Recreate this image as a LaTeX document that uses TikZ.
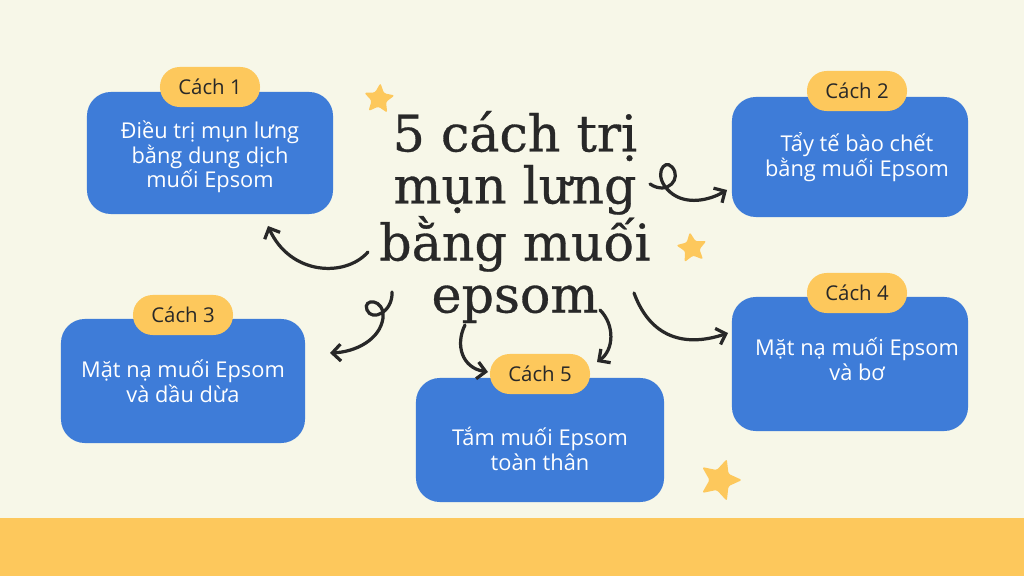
\documentclass[tikz,border=0pt]{standalone}
\usepackage{fontspec}
\setmainfont{Open Sans}
\newfontfamily\titlefont[FakeBold=0.6]{DejaVu Serif}
\usetikzlibrary{shapes.geometric}
\usetikzlibrary{arrows.meta}
\usetikzlibrary{positioning}

\definecolor{bgcream}{RGB}{247,247,232}
\definecolor{cardblue}{RGB}{62,124,216}
\definecolor{tagyellow}{RGB}{253,200,92}
\definecolor{inkdark}{RGB}{40,40,40}

\begin{document}
\begin{tikzpicture}[x=0.025cm,y=-0.025cm,
    card/.style={fill=cardblue,rounded corners=17pt,inner sep=0pt},
    tag/.style={fill=tagyellow,rounded corners=14pt,minimum width=2.5cm,minimum height=1cm,
      inner sep=0pt,text=inkdark,font=\fontsize{14.5}{17}\selectfont},
    cardtext/.style={text=white,align=center,font=\fontsize{15.5}{17.5}\selectfont},
    curl/.style={draw=inkdark,line width=2.3pt,line cap=round,
      -{Straight Barb[length=6pt,width=12pt,line width=2.3pt]}},
    spark/.style={star,star points=5,star point ratio=2.1,fill=tagyellow,
      rounded corners=1.5pt,inner sep=0pt}]
    % background and bottom band
    \fill[bgcream] (0,0) rectangle (1024,576);
    \fill[tagyellow] (0,518) rectangle (1024,576);
    \useasboundingbox (0,0) rectangle (1024,576);

    % cards
    \node[card,minimum width=6.15cm,minimum height=3.05cm] (c1) at (210,153) {};
    \node[card,minimum width=5.9cm,minimum height=3.0cm] (c2) at (850,157) {};
    \node[card,minimum width=6.1cm,minimum height=3.1cm] (c3) at (183,381) {};
    \node[card,minimum width=5.9cm,minimum height=3.35cm] (c4) at (850,364) {};
    \node[card,minimum width=6.2cm,minimum height=3.1cm] (c5) at (540,440) {};

    \node[cardtext] (t1) at (210,157) {Điều trị mụn lưng\\bằng dung dịch\\muối Epsom};
    \node[cardtext] (t2) at (857,157) {Tẩy tế bào chết\\bằng muối Epsom};
    \node[cardtext] (t3) at (183,381) {Mặt nạ muối Epsom\\và dầu dừa};
    \node[cardtext] (t4) at (857,359) {Mặt nạ muối Epsom\\và bơ};
    \node[cardtext] (t5) at (540,449) {Tắm muối Epsom\\toàn thân};

    % tags
    \node[tag] (p1) at ([shift={(0,-66)}]c1.center) {Cách 1};
    \node[tag] (p2) at ([shift={(7,-66)}]c2.center) {Cách 2};
    \node[tag] (p3) at ([shift={(0,-66)}]c3.center) {Cách 3};
    \node[tag] (p4) at ([shift={(7,-71)}]c4.center) {Cách 4};
    \node[tag] (p5) at ([shift={(0,-66)}]c5.center) {Cách 5};

    % title
    \node[align=center,text=inkdark,font=\titlefont\fontsize{36}{37}\selectfont] (title) at (515,217)
      {5 cách trị\\mụn lưng\\bằng muối\\epsom};

    % stars
    \node[spark,minimum size=0.8cm,rotate=-5] (s1) at (379,99) {};
    \node[spark,minimum size=0.8cm,rotate=8] (s2) at (692,248) {};
    \node[spark,minimum size=1.1cm,rotate=-18] (s3) at (720,480) {};

    % curly arrows
    \coordinate (a1) at (368,252);
    \coordinate (b1) at (268,226);
    \coordinate (a2) at (650,184);
    \coordinate (b2) at (727,190);
    \coordinate (a3) at (392,292);
    \coordinate (b3) at (330,353);
    \coordinate (a4) at (465,325);
    \coordinate (b4) at (488,372);
    \coordinate (a5) at (600,310);
    \coordinate (b5) at (597,362);
    \coordinate (a6) at (634,293);
    \coordinate (b6) at (728,333);
    \draw[curl] (a1) .. controls (345,278) and (290,275) .. (b1);
    \draw[curl] (a2) .. controls (668,196) and (682,178) .. (672,167)
      .. controls (664,158) and (652,176) .. (670,192)
      .. controls (686,206) and (710,200) .. (b2);
    \draw[curl] (a3) .. controls (393,312) and (372,322) .. (367,310)
      .. controls (362,298) and (385,298) .. (383,318)
      .. controls (380,340) and (355,352) .. (b3);
    \draw[curl] (a4) .. controls (455,345) and (462,368) .. (b4);
    \draw[curl] (a5) .. controls (615,325) and (614,350) .. (b5);
    \draw[curl] (a6) .. controls (652,342) and (690,346) .. (b6);
\end{tikzpicture}
\end{document}
